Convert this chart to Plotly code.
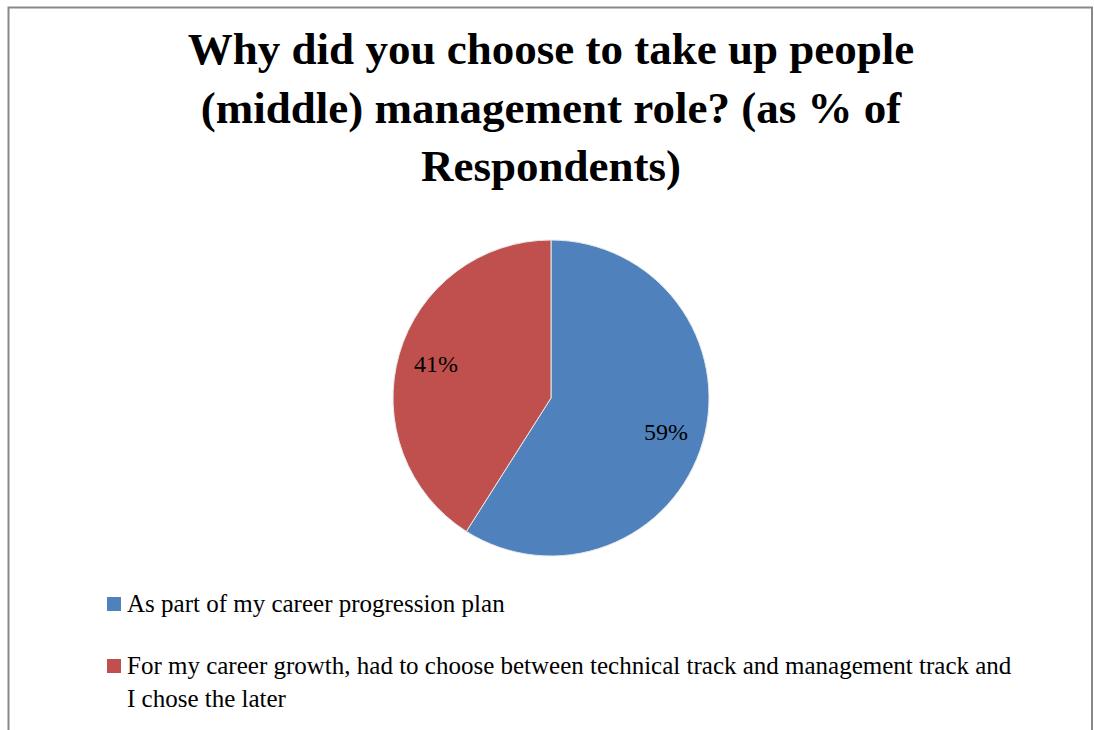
import math
import plotly.graph_objects as go

# Survey answers and their share of respondents (%)
categories = [
    "As part of my career progression plan",
    "For my career growth, had to choose between technical track and management track and<br>I chose the later",
]
shares = [59, 41]
colors = ["#4F81BD", "#C0504D"]

title_text = "Why did you choose to take up people<br>(middle) management role? (as % of<br>Respondents)"

W, H = 1094, 730
SERIF = "Liberation Serif, Times New Roman, serif"

# Pie placement in pixels (center and radius)
cx, cy, r = 551, 398, 158
dom_x = [(cx - r) / W, (cx + r) / W]
dom_y = [1 - (cy + r) / H, 1 - (cy - r) / H]

fig = go.Figure(
    go.Pie(
        labels=categories,
        values=shares,
        sort=False,
        direction="clockwise",
        rotation=0,
        marker=dict(colors=colors, line=dict(color="#E8E8E8", width=1)),
        textinfo="none",
        hoverinfo="label+percent",
        showlegend=False,
        domain=dict(x=dom_x, y=dom_y),
    )
)

# Percentage labels along each slice's mid-angle
total = sum(shares)
start = 0.0
annotations = []
for v in shares:
    span = 360.0 * v / total
    mid = math.radians(start + span / 2)
    px = cx + 0.76 * r * math.sin(mid)
    py = cy - 0.76 * r * math.cos(mid)
    annotations.append(dict(
        x=px / W, y=1 - py / H, xref="paper", yref="paper",
        text=f"{round(100 * v / total)}%", showarrow=False,
        font=dict(family=SERIF, size=24, color="#000000"),
        xanchor="center", yanchor="middle",
    ))
    start += span

# Legend: colour squares with their labels below the pie
legend_rows = [604, 666]
for name, col, ypx in zip(categories, colors, legend_rows):
    annotations.append(dict(
        x=125 / W, y=1 - (ypx - 16.5) / H, xref="paper", yref="paper",
        text=name, showarrow=False, align="left",
        font=dict(family=SERIF, size=25, color="#000000"),
        xanchor="left", yanchor="top",
    ))

shapes = [
    # chart frame
    dict(type="rect", xref="paper", yref="paper",
         x0=8.5 / W, x1=1092 / W, y0=-0.05, y1=1 - 7.5 / H,
         line=dict(color="#888888", width=2), fillcolor="rgba(0,0,0,0)"),
]
for col, ypx in zip(colors, legend_rows):
    shapes.append(dict(
        type="rect", xref="paper", yref="paper",
        x0=107 / W, x1=121 / W, y0=1 - (ypx + 7) / H, y1=1 - (ypx - 7) / H,
        line=dict(width=0), fillcolor=col,
    ))

fig.update_layout(
    width=W, height=H,
    margin=dict(l=0, r=0, t=0, b=0),
    paper_bgcolor="white",
    plot_bgcolor="white",
    title=dict(
        text=f"<b>{title_text}</b>",
        x=cx / W, xanchor="center",
        y=1 - 64 / H, yanchor="top",
        font=dict(family=SERIF, size=45, color="#000000"),
    ),
    annotations=annotations,
    shapes=shapes,
)

fig.write_html("out.html")
